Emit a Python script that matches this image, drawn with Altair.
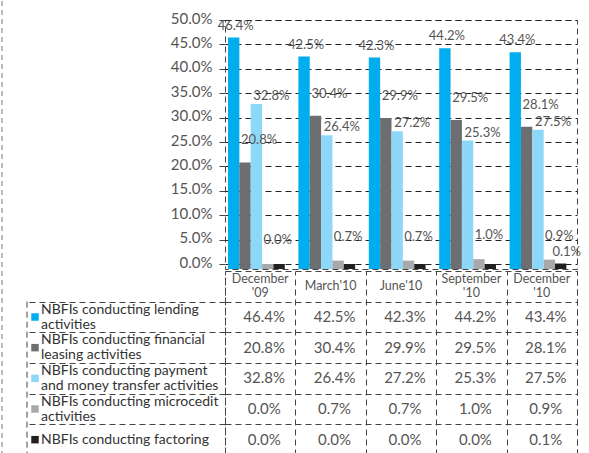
import altair as alt
import pandas as pd

periods = ["December|'09", "March'10", "June'10", "September|'10", "December|'10"]
series = [
    "NBFIs conducting lending|activities",
    "NBFIs conducting financial|leasing activities",
    "NBFIs conducting payment|and money transfer activities",
    "NBFIs conducting microcedit|activities",
    "NBFIs conducting factoring",
]
lending = [46.4, 42.5, 42.3, 44.2, 43.4]
leasing = [20.8, 30.4, 29.9, 29.5, 28.1]
payment = [32.8, 26.4, 27.2, 25.3, 27.5]
microcredit = [0.0, 0.7, 0.7, 1.0, 0.9]
factoring = [0.0, 0.0, 0.0, 0.0, 0.1]
colors = ["#00AEEF", "#6D6E71", "#8DD8F8", "#A7A9AC", "#231F20"]
y_ticks = [0, 5, 10, 15, 20, 25, 30, 35, 40, 45, 50]

# label placement styles per series (pixels)
label_dx = [2, 14, 15, 10, 6]
label_dy = [-12, -22, -8, -24, -12]

rows = []
for s, vals in zip(series, [lending, leasing, payment, microcredit, factoring]):
    for p, v in zip(periods, vals):
        rows.append({"period": p, "series": s, "value": v / 100.0,
                     "label": f"{v:.1f}%"})
df = pd.DataFrame(rows)
df_head = pd.DataFrame({"period": periods, "series": ["header"] * len(periods)})
df_names = pd.DataFrame({"series": series})
one = pd.DataFrame({"a": [0]})

FONT = "Lato"
DASH = [6, 4]
LINE = "#444444"
TXT = "#555555"
EDGE = "#777777"

W = 352
H_TOP = 249
FLOOR = 5
H_TAB = 184
LABEL_COL = 198
ROW = H_TAB / (len(series) + 1)

color = alt.Color("series:N", sort=series,
                  scale=alt.Scale(domain=series, range=colors), legend=None)

base = alt.Chart(df).encode(
    x=alt.X("period:N", sort=periods,
            scale=alt.Scale(paddingInner=0, paddingOuter=0), axis=None),
    xOffset=alt.XOffset("series:N", sort=series,
                        scale=alt.Scale(paddingInner=0, paddingOuter=0.6, align=0.22)),
    y=alt.Y("value:Q", stack=None,
            scale=alt.Scale(domain=[0, 0.5], range=[H_TOP - FLOOR, 0]),
            axis=alt.Axis(values=[t / 100 for t in y_ticks], format=".1%", title=None,
                          grid=True, gridDash=DASH, gridColor="#222222",
                          tickSize=6, tickColor=LINE, domain=False,
                          labelFontSize=15, labelColor=TXT, labelPadding=7,
                          labelOffset=-2)),
)

# bars stand on the 3-D floor at the bottom of the plot frame
bars = base.mark_bar().encode(color=color, y2=alt.value(H_TOP))
label_layers = []
for i, s in enumerate(series):
    cond = (alt.datum.series == s) & (alt.datum.value > 0) if i == 4 else (alt.datum.series == s)
    lay = base.transform_filter(cond).mark_text(
        baseline="middle", dy=label_dy[i], dx=label_dx[i], fontSize=13, color=TXT
    ).encode(text="label:N")
    label_layers.append(lay)
left_top = alt.Chart(one).mark_rule(color=EDGE, strokeDash=[5, 4]).encode(
    x=alt.value(-(LABEL_COL + 25)), y=alt.value(-19), y2=alt.value(H_TOP))

top = alt.layer(bars, *label_layers, left_top).properties(width=W, height=H_TOP)

y_dom = ["header"] + series
tx = alt.X("period:N", sort=periods,
           scale=alt.Scale(paddingInner=0, paddingOuter=0),
           axis=alt.Axis(title=None, labels=False, ticks=False, domain=False,
                         grid=True, tickBand="extent", gridDash=DASH,
                         gridColor=LINE))
ty = alt.Y("series:N", sort=y_dom,
           scale=alt.Scale(domain=y_dom, paddingInner=0, paddingOuter=0),
           axis=alt.Axis(title=None, values=series, labels=False,
                         tickSize=LABEL_COL, tickBand="extent",
                         tickDash=DASH, tickColor=LINE,
                         grid=True, gridDash=DASH, gridColor=LINE, domain=False))

tbase = alt.Chart(df).encode(x=tx, y=ty)
cells = tbase.mark_text(fontSize=15, color=TXT, dx=4).encode(text="label:N")
squares = alt.Chart(df_names).mark_square(size=56, opacity=1).encode(
    x=alt.value(-(LABEL_COL - 8)), y=ty, color=color)

nbase = alt.Chart(df_names).transform_calculate(lines="split(datum.series, '|')")
names2 = nbase.transform_filter("indexof(datum.series, '|') >= 0").mark_text(
    align="left", baseline="middle", fontSize=14, lineHeight=15, dy=-7.5,
    color="#333333"
).encode(x=alt.value(-(LABEL_COL - 14)), y=ty, text="lines:N")
names1 = nbase.transform_filter("indexof(datum.series, '|') < 0").mark_text(
    align="left", baseline="middle", fontSize=14, color="#333333"
).encode(x=alt.value(-(LABEL_COL - 14)), y=ty, text="lines:N")

hbase = alt.Chart(df_head).transform_calculate(
    hdr="split(datum.period, '|')")
head2 = hbase.transform_filter("indexof(datum.period, '|') >= 0").mark_text(
    fontSize=12.5, color=TXT, lineHeight=14, baseline="middle", dy=-7
).encode(x=tx, y=ty, text="hdr:N")
head1 = hbase.transform_filter("indexof(datum.period, '|') < 0").mark_text(
    fontSize=12.5, color=TXT, baseline="middle"
).encode(x=tx, y=ty, text="hdr:N")

left_col = alt.Chart(one).mark_rule(color=LINE, strokeDash=DASH).encode(
    x=alt.value(-LABEL_COL), y=alt.value(ROW), y2=alt.value(H_TAB))
left_tab = alt.Chart(one).mark_rule(color=EDGE, strokeDash=[5, 4]).encode(
    x=alt.value(-(LABEL_COL + 25)), y=alt.value(0), y2=alt.value(H_TAB))

table = alt.layer(cells, squares, names2, names1, head2, head1,
                  left_col, left_tab).properties(width=W, height=H_TAB)

chart = alt.vconcat(top, table, spacing=-20).properties(
    padding={"left": 1, "top": 0, "right": 0, "bottom": 0}
).configure_view(stroke=LINE, strokeDash=DASH).configure_axis(
    labelFont=FONT).configure_text(font=FONT)

chart.save("out.html", embed_options={"renderer": "svg", "actions": False})
